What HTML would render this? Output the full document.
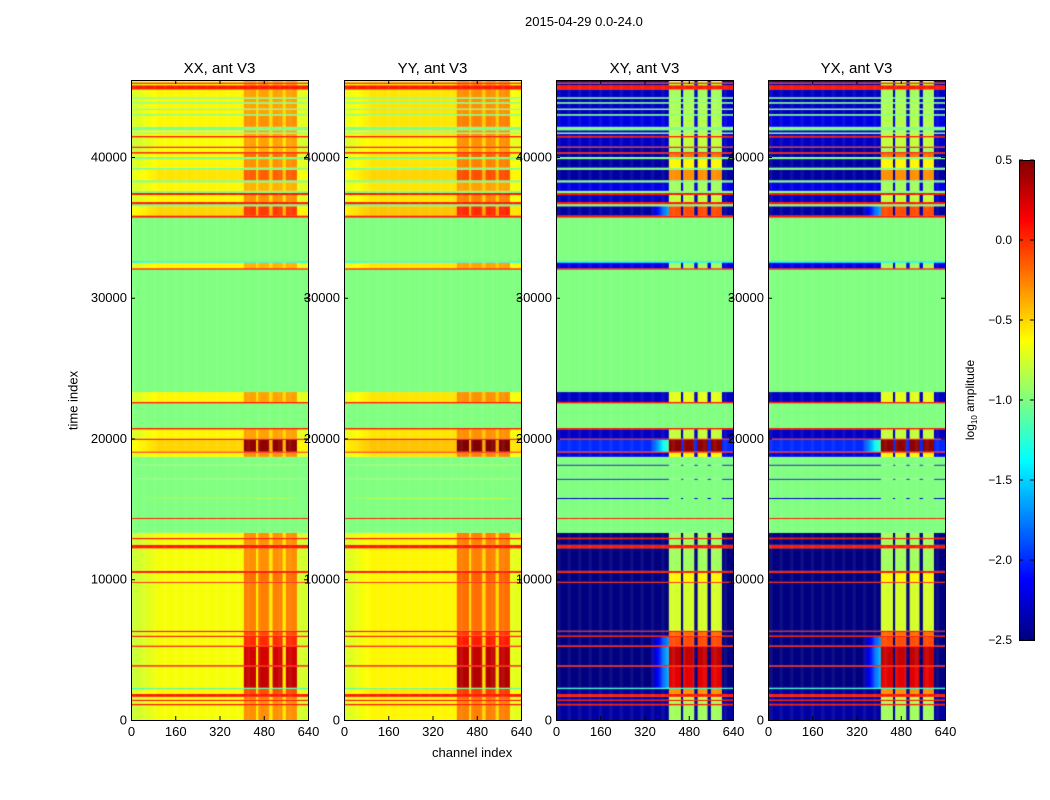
<!DOCTYPE html>
<html><head><meta charset="utf-8"><style>
body{margin:0;background:#fff;font-family:"Liberation Sans",sans-serif;}
#root{position:relative;width:1050px;height:800px;overflow:hidden;background:#fff;}
.t{position:absolute;font-size:13px;color:#000;white-space:nowrap;}
canvas{position:absolute;}
</style></head><body>
<div id="root">
<div class="t" style="left:525px;top:14px;">2015-04-29 0.0-24.0</div>
<div class="t" style="left:23px;top:393px;transform:rotate(-90deg);transform-origin:center;width:100px;text-align:center;">time index</div>
<div class="t" style="left:432px;top:745px;">channel index</div>
<canvas id="cbar" width="15" height="480" style="left:1019px;top:160px;"></canvas>
<svg id="ov" width="1050" height="800" style="position:absolute;left:0;top:0;"></svg>
</div>
<script>
// channel bands (data)
const bandStart=[405,460,512,558];
const bandEnd=[450,500,548,600];
// time segments (data): start times, type (d=data,g=flagged,o=orange line), per-segment levels
const segStart=[0,1050,1150,1350,1450,1650,1850,2200,2300,3800,3900,5200,5300,5900,6000,6250,6350,9750,9820,10450,10600,12200,12450,12850,12950,13300,14300,14350,15700,15780,17100,17150,18100,18150,18700,19000,19080,19900,20000,20650,20750,22500,22600,23300,32000,32100,32500,32600,35700,
35850,36500,36650,36800,37300,37450,37600,38200,38350,39100,39250,39850,40000,40250,40350,40650,40750,41400,41500,41650,41750,41900,42150,42950,43050,43350,43450,43800,43900,44150,44250,44800,45100,45200,45300];
const segType=['d','o','d','o','d','o','d','d','d','o','d','o','d','o','d','o','d','o','d','o','d','o','d','o','d','g','o','g','d','g','d','g','d','g','d','o','d','o','d','o','g','o','d','g','o','d','d','g','o',
'd','g','o','d','o','g','d','g','d','g','d','g','d','o','d','o','d','o','d','g','d','g','d','g','d','g','d','g','d','g','d','o','d','o','d'];
const xxOff=[-0.65,0,-0.65,0,-0.65,0,-0.6,-1.1,-0.65,0,-0.65,0,-0.65,0,-0.65,0,-0.65,0,-0.65,0,-0.65,0,-0.65,0,-0.65,0,0,0,-0.9,0,-0.9,0,-0.9,0,-0.6,0,-0.5,0,-0.6,0,0,0,-0.6,0,0,-0.6,-1.3,0,0,
-0.5,0,0,-0.6,0,0,-0.6,0,-0.55,0,-0.6,0,-0.6,0,-0.65,0,-0.65,0,-0.6,0,-0.6,0,-0.6,0,-0.6,0,-0.6,0,-0.6,0,-0.6,0,-0.6,0,-0.6];
const xxBand=[-0.3,0,-0.3,0,-0.25,0,-0.1,-1.1,0.3,0,0.25,0,0.0,0,-0.1,0,-0.25,0,-0.2,0,-0.3,0,-0.3,0,-0.3,0,0,0,-0.9,0,-0.9,0,-0.9,0,-0.3,0,0.45,0,-0.35,0,0,0,-0.35,0,0,-0.4,-1.3,0,0,
-0.05,0,0,-0.3,0,0,-0.4,0,-0.15,0,-0.3,0,-0.2,0,-0.4,0,-0.35,0,-0.35,0,-0.35,0,-0.3,0,-0.35,0,-0.35,0,-0.35,0,-0.35,0,-0.3,0,-0.35];
const xyOff=[-2.4,0,-2.4,0,-2.4,0,-2.4,-1.2,-2.5,0,-2.5,0,-2.5,0,-2.5,0,-2.5,0,-2.5,0,-2.5,0,-2.5,0,-2.5,0,0,0,-2.3,0,-2.2,0,-2.3,0,-2.2,0,-2.0,0,-2.3,0,0,0,-2.3,0,0,-2.2,-1.4,0,0,
-2.4,0,0,-2.3,0,0,-2.2,0,-2.4,0,-2.4,0,-2.4,0,-2.4,0,-2.3,0,-2.3,0,-2.3,0,-2.2,0,-2.3,0,-2.3,0,-2.3,0,-2.3,0,-2.4,0,-2.4];
const xyBand=[-0.9,0,-0.9,0,-0.8,0,-0.3,-1.2,0.2,0,0.3,0,-0.1,0,-0.2,0,-0.75,0,-0.6,0,-0.9,0,-0.9,0,-0.9,0,0,0,-1.0,0,-1.0,0,-1.0,0,-0.6,0,0.45,0,-0.8,0,0,0,-0.7,0,0,-0.9,-1.4,0,0,
-0.1,0,0,-0.8,0,0,-0.9,0,-0.3,0,-0.6,0,-0.2,0,-0.9,0,-0.8,0,-0.8,0,-0.8,0,-0.85,0,-0.85,0,-0.85,0,-0.85,0,-0.9,0,-0.8,0,-0.8];
const xTicks=[0,160,320,480,640];
const yTicks=[0,10000,20000,30000,40000];
const cbTicks=[0.5,0.0,-0.5,-1.0,-1.5,-2.0,-2.5];
const titles=['XX, ant V3','YY, ant V3','XY, ant V3','YX, ant V3'];
const panelX=[131,344,556,768], PW=177, PT=80, PH=640, TMAX=45470, CMAX=640, VMIN=-2.5, VMAX=0.5;
const segEnd=segStart.slice(1).concat([TMAX]);
function jet(v){let x=(v-VMIN)/(VMAX-VMIN);x=Math.max(0,Math.min(1,x));
 const f=(a)=>Math.max(0,Math.min(1,a));
 const r=f(1.5-Math.abs(4*x-3)),g=f(1.5-Math.abs(4*x-2)),b=f(1.5-Math.abs(4*x-1));
 return 'rgb('+Math.round(r*255)+','+Math.round(g*255)+','+Math.round(b*255)+')';}
const xs=c=>c/CMAX*PW, ys=t=>PH-t/TMAX*PH;
function inBand(c){for(let i=0;i<bandStart.length;i++)if(c>=bandStart[i]&&c<bandEnd[i])return true;return false;}
const root=document.getElementById('root');
const ov=document.getElementById('ov');
const NS='http://www.w3.org/2000/svg';
function sv(tag,attrs,txt){const e=document.createElementNS(NS,tag);for(const k in attrs)e.setAttribute(k,attrs[k]);if(txt!=null)e.textContent=txt;ov.appendChild(e);return e;}
for(let p=0;p<4;p++){
 const cv=document.createElement('canvas');cv.width=PW;cv.height=PH;
 cv.style.left=panelX[p]+'px';cv.style.top=PT+'px';
 
 
 root.insertBefore(cv,ov);
 const ctx=cv.getContext('2d');
 const cross=p>=2, yy=p==1;
 for(let s=0;s<segStart.length;s++){
  const y0=ys(segEnd[s]),y1=ys(segStart[s]);const h=Math.max(1,y1-y0);
  const ty=segType[s];
  for(let c=0;c<CMAX;c+=4){
   let v;
   if(ty=='g')v=-1.0;else if(ty=='o')v=0.05;
   else{
    const off=cross?xyOff[s]:xxOff[s],bd=cross?xyBand[s]:xxBand[s];
    if(inBand(c))v=bd;
    else{v=off;
     if(cross&&c<405&&c>340&&bd>-0.2)v=off+(bd-off)*0.35*((c-340)/65);
     if(!cross&&c<100)v=off-0.15*(1-c/100);
     if(!cross&&c>=600)v=off-0.1;
     if(!cross&&c>=405&&c<600)v=off+0.08;}
    if(yy&&!cross)v+=0.05;
   }
   ctx.fillStyle=jet(v);ctx.fillRect(xs(c),y0,xs(4)+0.5,h);
  }
 }
 const X=panelX[p];
 sv('rect',{x:X+0.5,y:PT+0.5,width:PW,height:PH,fill:'none',stroke:'#000','stroke-width':1,});
 sv('text',{x:X+PW/2,y:PT-7,'font-size':15,'text-anchor':'middle','font-family':'Liberation Sans',},titles[p]);
 for(const t of xTicks){const x=X+xs(t)+0.5;
  sv('line',{x1:x,x2:x,y1:PT+PH,y2:PT+PH-4,stroke:'#000'});sv('line',{x1:x,x2:x,y1:PT,y2:PT+4,stroke:'#000'});
  sv('text',{x:x,y:PT+PH+16,'font-size':13,'text-anchor':'middle','font-family':'Liberation Sans',},t);}
 for(const t of yTicks){const y=PT+ys(t)+0.5;
  sv('line',{x1:X,x2:X+4,y1:y,y2:y,stroke:'#000'});sv('line',{x1:X+PW,x2:X+PW-4,y1:y,y2:y,stroke:'#000'});
  sv('text',{x:X-4,y:y+4,'font-size':13,'text-anchor':'end','font-family':'Liberation Sans',},t);}
}
// colorbar
const cb=document.getElementById('cbar').getContext('2d');
for(let i=0;i<480;i++){cb.fillStyle=jet(VMAX-(i+0.5)/480*(VMAX-VMIN));cb.fillRect(0,i,15,1);}
sv('rect',{x:1019.5,y:160.5,width:15,height:480,fill:'none',stroke:'#000',});
for(const t of cbTicks){const y=160+(VMAX-t)/(VMAX-VMIN)*480;
 sv('line',{x1:1019,x2:1023,y1:y,y2:y,stroke:'#000'});sv('line',{x1:1034,x2:1030,y1:y,y2:y,stroke:'#000'});
 sv('text',{x:1012,y:y+4,'font-size':12,'text-anchor':'end','font-family':'Liberation Sans',},(t<0?'\u2212':'')+Math.abs(t).toFixed(1));}
const lab=sv('text',{x:0,y:0,'font-size':12,'text-anchor':'middle','font-family':'Liberation Sans',transform:'translate(974,400) rotate(-90)',});
lab.innerHTML='log<tspan font-size="8" dy="3">10</tspan><tspan dy="-3"> amplitude</tspan>';
</script>
</body></html>
